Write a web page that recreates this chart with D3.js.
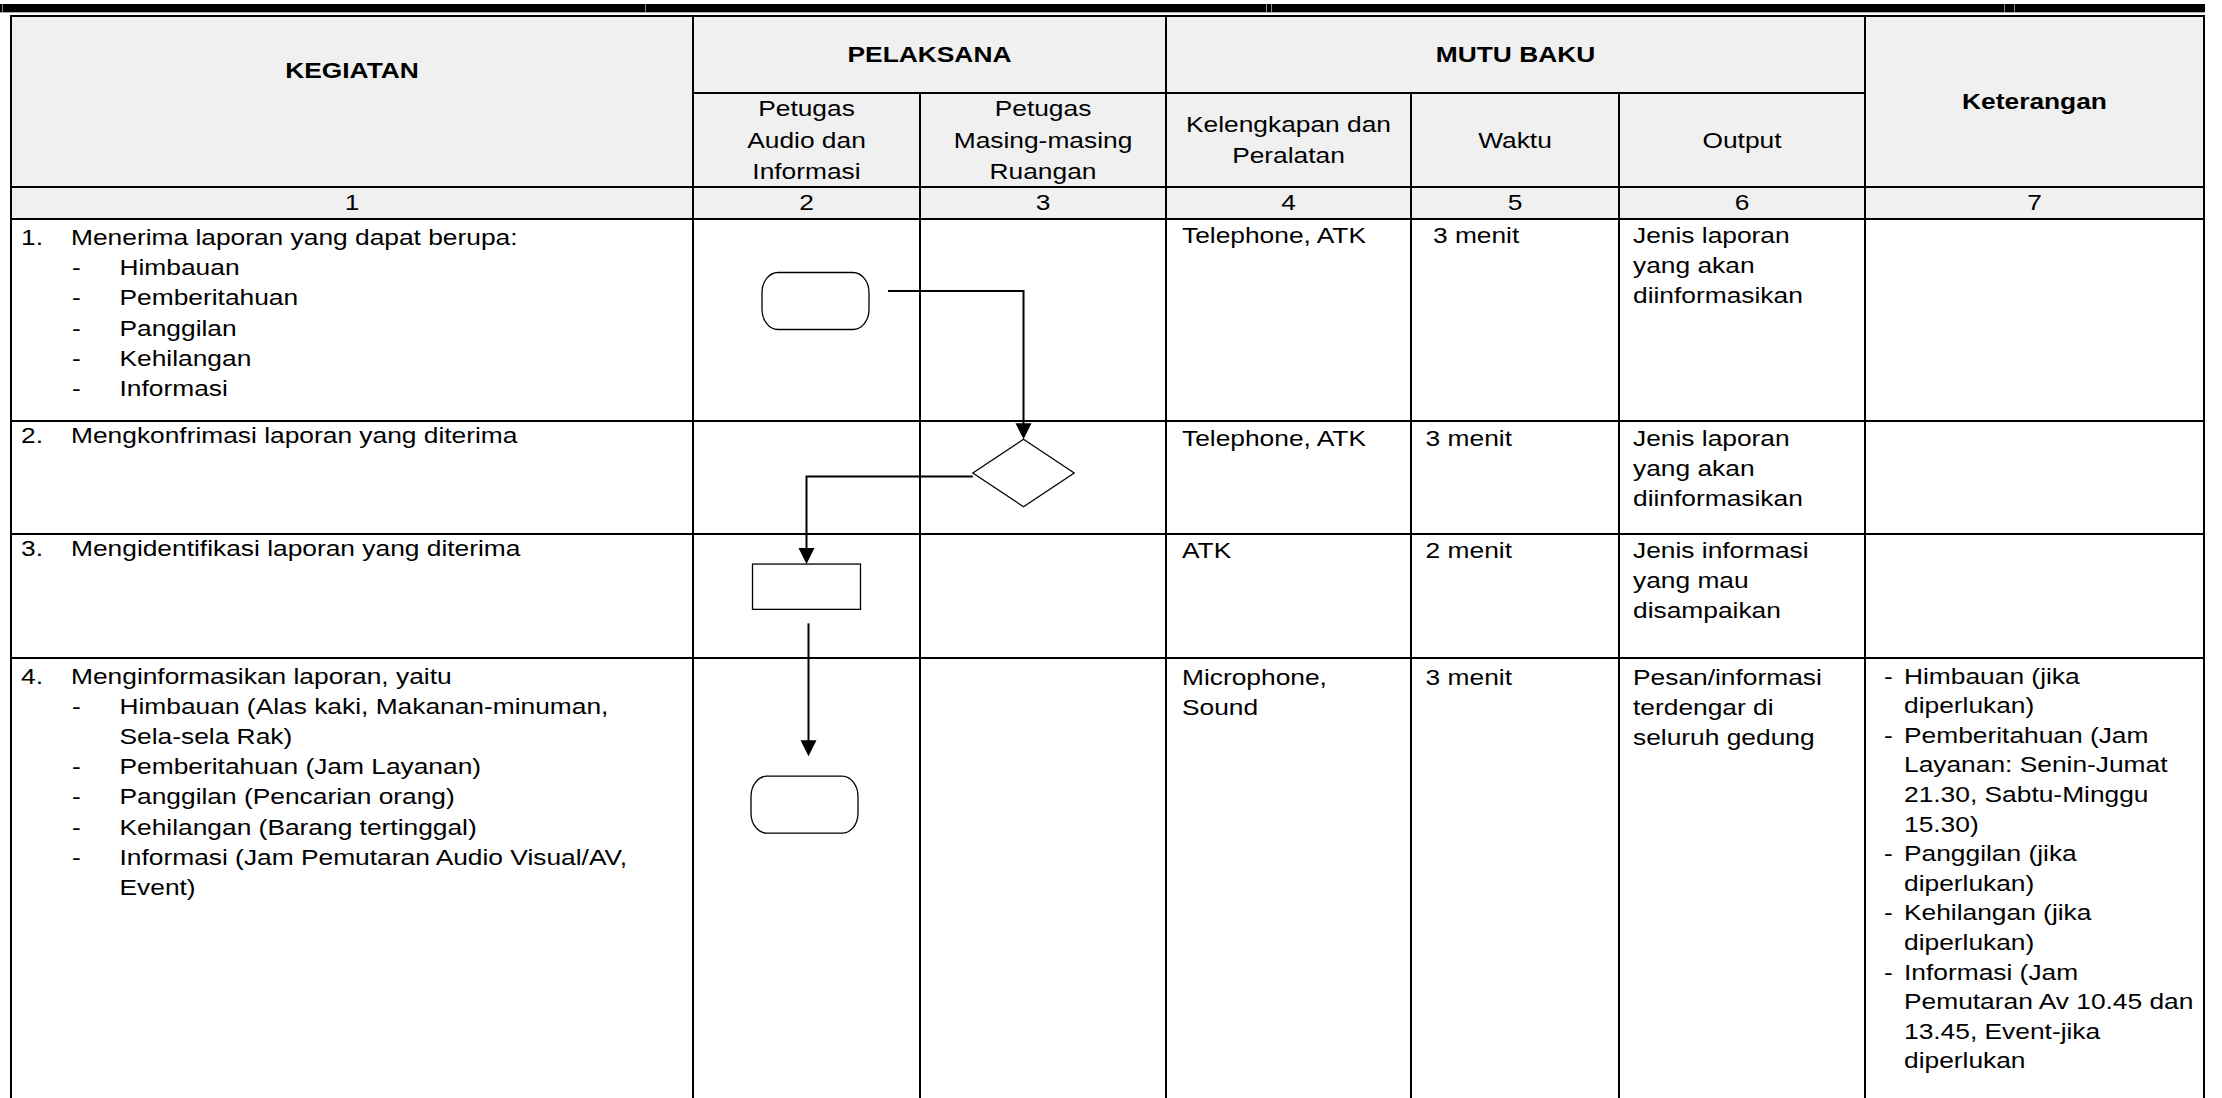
<!DOCTYPE html>
<html><head><meta charset="utf-8">
<script src="https://cdn.jsdelivr.net/npm/d3@7"></script>
<style>
html,body{margin:0;padding:0;background:#fff;}
svg{display:block;}
text{font-family:"Liberation Sans",Arial,Helvetica,sans-serif;fill:#000;white-space:pre;}
</style></head><body>
<svg id="chart" width="2222" height="1098"></svg>
<script>
// ================= DATA =================
const groupHeaders = [
  {label:["KEGIATAN","",""], from:0, to:1, rowspan:true},
  {label:["PELAKSANA"], from:1, to:3, rowspan:false},
  {label:["MUTU BAKU"], from:3, to:6, rowspan:false},
  {label:["Keterangan"], from:6, to:7, rowspan:true}
];
// sub headers for columns 1..5 (0-based column index 1..5)
const subHeaders = [
  ["Petugas","Audio dan","Informasi"],
  ["Petugas","Masing-masing","Ruangan"],
  ["Kelengkapan dan","Peralatan"],
  ["Waktu"],
  ["Output"]
];
const columnNumbers = ["1","2","3","4","5","6","7"];
const stepNumbers = ["1.","2.","3.","4."];
const stepTitles = [
  "Menerima laporan yang dapat berupa:",
  "Mengkonfrimasi laporan yang diterima",
  "Mengidentifikasi laporan yang diterima",
  "Menginformasikan laporan, yaitu"
];
const stepItems = [
  [["Himbauan"],["Pemberitahuan"],["Panggilan"],["Kehilangan"],["Informasi"]],
  [],
  [],
  [["Himbauan (Alas kaki, Makanan-minuman,","Sela-sela Rak)"],
   ["Pemberitahuan (Jam Layanan)"],
   ["Panggilan (Pencarian orang)"],
   ["Kehilangan (Barang tertinggal)"],
   ["Informasi (Jam Pemutaran Audio Visual/AV,","Event)"]]
];
const kelengkapan = [["Telephone, ATK"],["Telephone, ATK"],["ATK"],["Microphone,","Sound"]];
const waktu = [[" 3 menit"],["3 menit"],["2 menit"],["3 menit"]];
const output = [
  ["Jenis laporan","yang akan","diinformasikan"],
  ["Jenis laporan","yang akan","diinformasikan"],
  ["Jenis informasi","yang mau","disampaikan"],
  ["Pesan/informasi","terdengar di","seluruh gedung"]
];
const keterangan = [
  [],[],[],
  [["Himbauan (jika","diperlukan)"],
   ["Pemberitahuan (Jam","Layanan: Senin-Jumat","21.30, Sabtu-Minggu","15.30)"],
   ["Panggilan (jika","diperlukan)"],
   ["Kehilangan (jika","diperlukan)"],
   ["Informasi (Jam","Pemutaran Av 10.45 dan","13.45, Event-jika","diperlukan"]]
];
const flowNodes = [
  {step:0, lane:1, shape:"terminator"},
  {step:1, lane:2, shape:"decision"},
  {step:2, lane:1, shape:"process"},
  {step:3, lane:1, shape:"terminator"}
];
const flowLinks = [{source:0,target:1},{source:1,target:2},{source:2,target:3}];

// ================= LAYOUT / STYLE =================
const SX = 1.22, FS = 21.6;
const HDR_TOP = 16, HDR_SUB = 93, NUM_TOP = 187, NUM_BOT = 219, PAGE_BOTTOM = 1098;
const colEdges = [11, 693, 920, 1166, 1411, 1619, 1865, 2204];
const bodyEdges = [NUM_BOT, 421, 534, 658, PAGE_BOTTOM];
const x = d3.scaleLinear().domain(d3.range(colEdges.length)).range(colEdges);
const y = d3.scaleLinear().domain(d3.range(bodyEdges.length)).range(bodyEdges);
const HDR_LH = 31.5, CAP = 7.5;
const col1Offset = [26, 21.5, 22, 25.5], mutuOffset = [23.5, 24.5, 24, 26.5], ketOffset = 25.5;
const LH1 = 30.2, LHM = 30, LHK = 29.6;
const mutuPad = [16, 14.6, 14];

const shapeStyle = {
  terminator:{w:107, h:57, rx:16, ry:20, exitGap:19, exitDy:-10},
  decision:{w:101.4, h:67.4, exitGap:0, exitDy:3.5},
  process:{w:108, h:45.3}
};
// node placement relative to its lane centre / row top
const nodePlace = [
  {dx:9, dy:82}, {dx:-19.5, dy:52}, {dx:0, dy:52.7}, {dx:-2, dy:146.7}
];

const svg = d3.select("#chart");

function txt(g, str, x0, y0, opts={}) {
  return g.append("text")
    .attr("transform", `translate(${x0},${y0}) scale(${SX},1)`)
    .attr("text-anchor", opts.anchor || "start")
    .attr("font-size", FS)
    .attr("font-weight", opts.bold ? "bold" : "normal")
    .text(str);
}
function block(g, lines, cx, cy, bold) {
  const n = lines.length;
  lines.forEach((ln, i) => {
    if (ln) txt(g, ln, cx, cy + CAP + (i - (n - 1) / 2) * HDR_LH, {anchor:"middle", bold});
  });
}

// ---- top thick bar ----
const bar = svg.append("g");
bar.append("rect").attr("x",0).attr("y",4).attr("width",2205).attr("height",8).attr("fill","#000");
bar.append("line").attr("x1",0).attr("x2",2205).attr("y1",12.5).attr("y2",12.5).attr("stroke","#aaa").attr("stroke-width",1);
[2.5, 645.5, 1266.5, 1271.5, 2004.5, 2014.5].forEach(gx => {
  bar.append("line").attr("x1",gx).attr("x2",gx).attr("y1",4).attr("y2",12).attr("stroke","#888").attr("stroke-width",1);
});

// ---- header background ----
svg.append("rect").attr("x", x(0)).attr("y", HDR_TOP)
  .attr("width", x(7) - x(0)).attr("height", NUM_BOT - HDR_TOP).attr("fill", "#f0f0f0");

// ---- grid lines ----
const grid = svg.append("g").attr("stroke","#000").attr("stroke-width",2);
const groupBounds = new Set();
groupHeaders.forEach(h => { groupBounds.add(h.from); groupBounds.add(h.to); });
d3.range(colEdges.length).forEach(i => {
  const top = groupBounds.has(i) ? HDR_TOP : HDR_SUB;
  grid.append("line").attr("x1", x(i)).attr("x2", x(i)).attr("y1", top - 1).attr("y2", PAGE_BOTTOM);
});
[HDR_TOP, NUM_TOP, NUM_BOT].concat(bodyEdges.slice(1, -1)).forEach(yy => {
  grid.append("line").attr("x1", x(0) - 1).attr("x2", x(7) + 1).attr("y1", yy).attr("y2", yy);
});
groupHeaders.filter(h => !h.rowspan).forEach(h => {
  grid.append("line").attr("x1", x(h.from)).attr("x2", x(h.to)).attr("y1", HDR_SUB).attr("y2", HDR_SUB);
});

// ---- header texts ----
const ht = svg.append("g");
groupHeaders.forEach(h => {
  const cx = (x(h.from) + x(h.to)) / 2;
  const cy = h.rowspan ? (HDR_TOP + NUM_TOP) / 2 : (HDR_TOP + HDR_SUB) / 2;
  block(ht, h.label, cx, cy, true);
});
subHeaders.forEach((lines, i) => {
  const c = i + 1;
  block(ht, lines, (x(c) + x(c + 1)) / 2, (HDR_SUB + NUM_TOP) / 2, false);
});
columnNumbers.forEach((n, i) => {
  txt(ht, n, (x(i) + x(i + 1)) / 2, (NUM_TOP + NUM_BOT) / 2 + 6.5, {anchor:"middle"});
});

// ---- body: kegiatan ----
const bt = svg.append("g");
stepTitles.forEach((title, r) => {
  const by = y(r) + col1Offset[r];
  txt(bt, stepNumbers[r], x(0) + 10, by);
  txt(bt, title, x(0) + 60, by);
  let line = 1;
  stepItems[r].forEach(item => {
    item.forEach((ln, j) => {
      if (j === 0) txt(bt, "-", x(0) + 61, by + line * LH1);
      txt(bt, ln, x(0) + 108.5, by + line * LH1);
      line++;
    });
  });
});

// ---- body: mutu baku ----
[kelengkapan, waktu, output].forEach((col, k) => {
  col.forEach((lines, r) => {
    const by = y(r) + mutuOffset[r];
    lines.forEach((ln, i) => txt(bt, ln, x(3 + k) + mutuPad[k], by + i * LHM));
  });
});

// ---- body: keterangan ----
keterangan.forEach((items, r) => {
  let line = 0;
  const by = y(r) + ketOffset;
  items.forEach(item => {
    item.forEach((ln, j) => {
      if (j === 0) txt(bt, "-", x(6) + 19, by + line * LHK);
      txt(bt, ln, x(6) + 39, by + line * LHK);
      line++;
    });
  });
});

// ---- flowchart ----
const nodes = flowNodes.map((n, i) => {
  const s = shapeStyle[n.shape];
  const cx = (x(n.lane) + x(n.lane + 1)) / 2 + nodePlace[i].dx;
  const cy = y(n.step) + nodePlace[i].dy;
  return Object.assign({}, n, s, {cx, cy});
});
const fg = svg.append("g").attr("fill","#fff").attr("stroke","#000").attr("stroke-width",1.3);
nodes.forEach(n => {
  if (n.shape === "terminator") {
    fg.append("rect").attr("x", n.cx - n.w/2).attr("y", n.cy - n.h/2)
      .attr("width", n.w).attr("height", n.h).attr("rx", n.rx).attr("ry", n.ry);
  } else if (n.shape === "process") {
    fg.append("rect").attr("x", n.cx - n.w/2).attr("y", n.cy - n.h/2)
      .attr("width", n.w).attr("height", n.h);
  } else {
    const pts = [[n.cx, n.cy - n.h/2],[n.cx + n.w/2, n.cy],[n.cx, n.cy + n.h/2],[n.cx - n.w/2, n.cy]];
    fg.append("polygon").attr("points", pts.map(p => p.join(",")).join(" "));
  }
});

const lg = svg.append("g");
const ARROW_L = 16, ARROW_W = 8;
flowLinks.forEach(l => {
  const s = nodes[l.source], t = nodes[l.target];
  let pts;
  if (s.lane !== t.lane) {
    const dir = t.cx > s.cx ? 1 : -1;
    const sx = s.cx + dir * (s.w / 2 + s.exitGap);
    const sy = s.cy + s.exitDy;
    pts = [[sx, sy], [t.cx, sy], [t.cx, t.cy - t.h / 2]];
  } else {
    pts = [[s.cx + 2, s.cy + s.h / 2 + 14], [s.cx + 2, t.cy - t.h / 2 - 20]];
  }
  const tip = pts[pts.length - 1];
  const linePts = pts.slice(0, -1).concat([[tip[0], tip[1] - ARROW_L + 2]]);
  lg.append("path").attr("d", d3.line()(linePts))
    .attr("fill","none").attr("stroke","#000").attr("stroke-width",2);
  lg.append("path")
    .attr("d", d3.line()([[tip[0], tip[1]], [tip[0] - ARROW_W, tip[1] - ARROW_L], [tip[0] + ARROW_W, tip[1] - ARROW_L]]) + "Z")
    .attr("fill","#000");
});
</script>
</body></html>
